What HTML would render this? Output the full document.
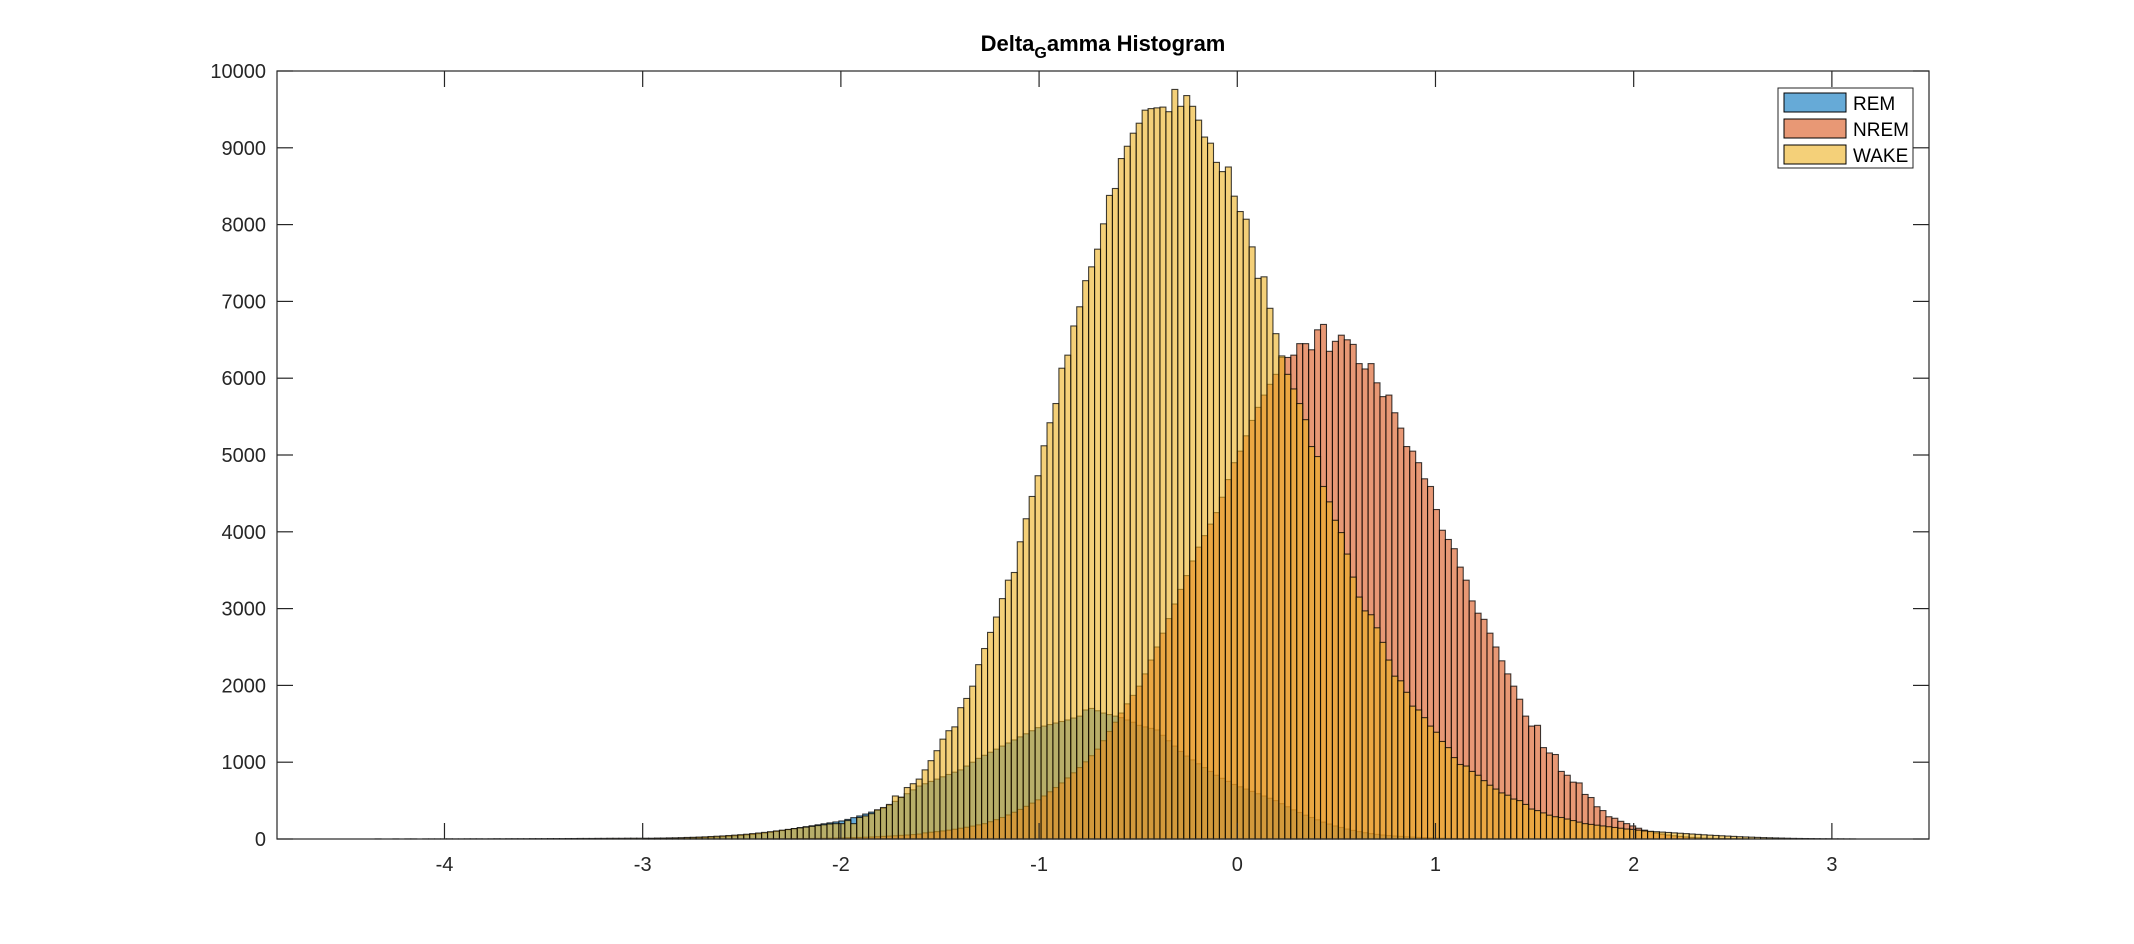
<!DOCTYPE html>
<html><head><meta charset="utf-8">
<style>
html,body{margin:0;padding:0;background:#fff;}
svg{display:block;font-family:"Liberation Sans",Arial,sans-serif;}
</style></head>
<body>
<svg id="chart" width="2134" height="944" viewBox="0 0 2134 944" xmlns="http://www.w3.org/2000/svg">
  <rect x="0" y="0" width="2134" height="944" fill="#fff"/>
  <text x="1103" y="51" text-anchor="middle" font-size="22" font-weight="bold" fill="#000">Delta<tspan dy="7" font-size="16">G</tspan><tspan dy="-7">amma Histogram</tspan></text>
  <g id="bars"></g>
  <g id="axes"></g>
  <g>
    <rect x="1778" y="88" width="135" height="80" fill="#fff" stroke="#262626" stroke-width="1"/>
    <g>
      <rect x="1784" y="93" width="62" height="19" fill="#0072BD" fill-opacity="0.6" stroke="#000" stroke-width="1"/>
      <text x="1853" y="110" font-size="19" fill="#000">REM</text>
    </g>
    <g>
      <rect x="1784" y="119" width="62" height="19" fill="#D95319" fill-opacity="0.6" stroke="#000" stroke-width="1"/>
      <text x="1853" y="136" font-size="19" fill="#000">NREM</text>
    </g>
    <g>
      <rect x="1784" y="145" width="62" height="19" fill="#EDB120" fill-opacity="0.6" stroke="#000" stroke-width="1"/>
      <text x="1853" y="162" font-size="19" fill="#000">WAKE</text>
    </g>
  </g>
</svg>
<script>
const binWidth = 0.03;
const remStart = -3.0;
const nremStart = -2.4;
const wakeStart = -4.5;
const xTicks = [-4, -3, -2, -1, 0, 1, 2, 3];
const yTicks = [0, 1000, 2000, 3000, 4000, 5000, 6000, 7000, 8000, 9000, 10000];
const remCounts = [5,5,6,7,8,9,10,12,14,16,19,22,26,30,35,40,46,53,60,68,77,87,98,110,122,135,148,160,172,185,198,210,222,
235,255,278,300,325,350,375,400,440,490,540,590,640,690,720,750,780,810,840,870,900,950,1000,1050,1090,1130,1170,1210,1250,1290,1330,1370,1410,1450,1470,1490,1510,1530,1550,1575,1600,1680,1700,1670,1640,1620,1600,1580,1550,1520,1480,1460,1440,1420,1350,1280,1210,1140,1080,1030,980,930,880,830,790,750,710,
680,650,620,590,560,530,500,460,420,380,345,310,280,250,220,195,170,150,130,112,96,82,70,60,52,45,39,34,29,25,21,18,15,12,10,8,7,6,5,4,3,3,2,2,1,1];
const nremCounts = [2,2,3,3,4,5,5,6,7,8,9,10,12,14,16,18,20,23,26,30,34,38,42,47,52,58,64,
80,88,96,105,115,127,140,153,168,184,200,225,252,280,313,348,385,425,467,510,560,615,670,730,795,862,930,1005,1085,1170,1280,1400,1520,1640,1760,1870,1990,2150,2330,2500,2680,2870,3060,3250,3430,3620,3800,3950,4100,4250,4450,4680,4900,
5050,5250,5450,5620,5780,5920,6050,6270,6270,6300,6450,6450,6370,6630,6700,6350,6480,6560,6500,6440,6190,6120,6190,5940,5760,5780,5550,5350,5110,5050,4900,4690,4590,4290,4020,3900,3780,3540,3370,3100,2940,2860,2680,2500,2320,2150,1990,1820,1600,1470,1480,1190,1120,1100,880,830,740,730,580,540,420,370,290,270,230,200,170,140,115,95,78,64,52,42,34,27,21,16,12,9,7,5,4,3,2,1];
const wakeCounts = [0,0,0,0,0,1,0,0,1,0,1,1,0,1,1,1,1,2,1,1,2,2,2,1,2,3,2,3,3,3,3,4,4,4,5,5,5,6,6,7,7,7,8,8,9,9,9,10,10,10,
10,10,12,12,14,15,17,20,22,25,28,32,36,40,45,50,56,62,70,78,86,95,105,115,125,135,145,155,165,175,185,195,200,
200,240,200,280,300,330,380,410,450,560,545,670,720,780,900,1020,1150,1300,1410,1460,1710,1830,1990,2270,2480,2690,2890,3130,3370,3470,3870,4170,4460,4730,5120,5420,5670,6130,6300,6680,6930,7270,7450,7680,8010,8380,8470,8860,9020,9190,9320,9490,9510,9520,9530,9470,9760,9540,9680,9540,9360,9140,9060,8810,8690,8750,8370,
8170,8070,7710,7300,7320,6910,6580,6290,6050,5860,5670,5460,5110,4980,4590,4390,4150,3990,3710,3410,3150,2970,2920,2750,2560,2330,2120,2060,1910,1730,1680,1580,1470,1390,1270,1190,1060,970,950,880,830,760,700,650,600,570,520,500,450,390,370,340,310,290,280,260,240,220,200,190,180,170,160,150,140,130,125,115,105,100,95,90,85,80,75,70,65,60,55,50,46,42,38,34,30,27,24,21,18,16,14,12,10,8,7,6,5,4,3,3,2,2,1,1];

const PL = 277, PR = 1929, PT = 71, PB = 839;
const XMIN = -4.845, XMAX = 3.49, YMAX = 10000;
function xs(v){ return PL + (v - XMIN) / (XMAX - XMIN) * (PR - PL); }
function ys(v){ return PB - v / YMAX * (PB - PT); }
const NS = "http://www.w3.org/2000/svg";
const barsG = document.getElementById('bars');
const axesG = document.getElementById('axes');

function drawSeries(counts, start, color, name){
  const g = document.createElementNS(NS, 'g');
  
  
  counts.forEach(function(c, i){
    const x0 = xs(start + i * binWidth), x1 = xs(start + (i + 1) * binWidth);
    const r = document.createElementNS(NS, 'rect');
    
    
    r.setAttribute('x', x0.toFixed(2));
    r.setAttribute('y', ys(c).toFixed(2));
    r.setAttribute('width', (x1 - x0).toFixed(2));
    r.setAttribute('height', Math.max(0, PB - ys(c)).toFixed(2));
    r.setAttribute('fill', color);
    r.setAttribute('fill-opacity', '0.6');
    r.setAttribute('stroke', '#000');
    r.setAttribute('stroke-opacity', '0.75');
    r.setAttribute('stroke-width', '1.1');
    g.appendChild(r);
  });
  barsG.appendChild(g);
}
drawSeries(remCounts, remStart, '#0072BD', 'rem');
drawSeries(nremCounts, nremStart, '#D95319', 'nrem');
drawSeries(wakeCounts, wakeStart, '#EDB120', 'wake');

function line(x1,y1,x2,y2,name){
  const l = document.createElementNS(NS, 'line');
  
  
  l.setAttribute('x1', x1); l.setAttribute('y1', y1);
  l.setAttribute('x2', x2); l.setAttribute('y2', y2);
  l.setAttribute('stroke', '#262626'); l.setAttribute('stroke-width', '1.2');
  axesG.appendChild(l);
}
function label(x,y,txt,anchor,name){
  const t = document.createElementNS(NS, 'text');
  
  
  t.setAttribute('x', x); t.setAttribute('y', y);
  t.setAttribute('text-anchor', anchor);
  t.setAttribute('font-size', '20');
  t.setAttribute('fill', '#262626');
  t.textContent = txt;
  axesG.appendChild(t);
}
const frame = document.createElementNS(NS, 'rect');


frame.setAttribute('x', PL); frame.setAttribute('y', PT);
frame.setAttribute('width', PR - PL); frame.setAttribute('height', PB - PT);
frame.setAttribute('fill', 'none'); frame.setAttribute('stroke', '#262626'); frame.setAttribute('stroke-width', '1.2');
axesG.appendChild(frame);
xTicks.forEach(function(v){
  const x = xs(v);
  line(x, PB, x, PB - 16, 'x-tick');
  line(x, PT, x, PT + 16, 'x-tick-top');
  label(x, 871, String(v), 'middle', 'x-tick-label');
});
yTicks.forEach(function(v){
  const y = ys(v);
  line(PL, y, PL + 16, y, 'y-tick');
  line(PR, y, PR - 16, y, 'y-tick-right');
  label(266, y + 7, String(v), 'end', 'y-tick-label');
});
</script>
</body></html>
